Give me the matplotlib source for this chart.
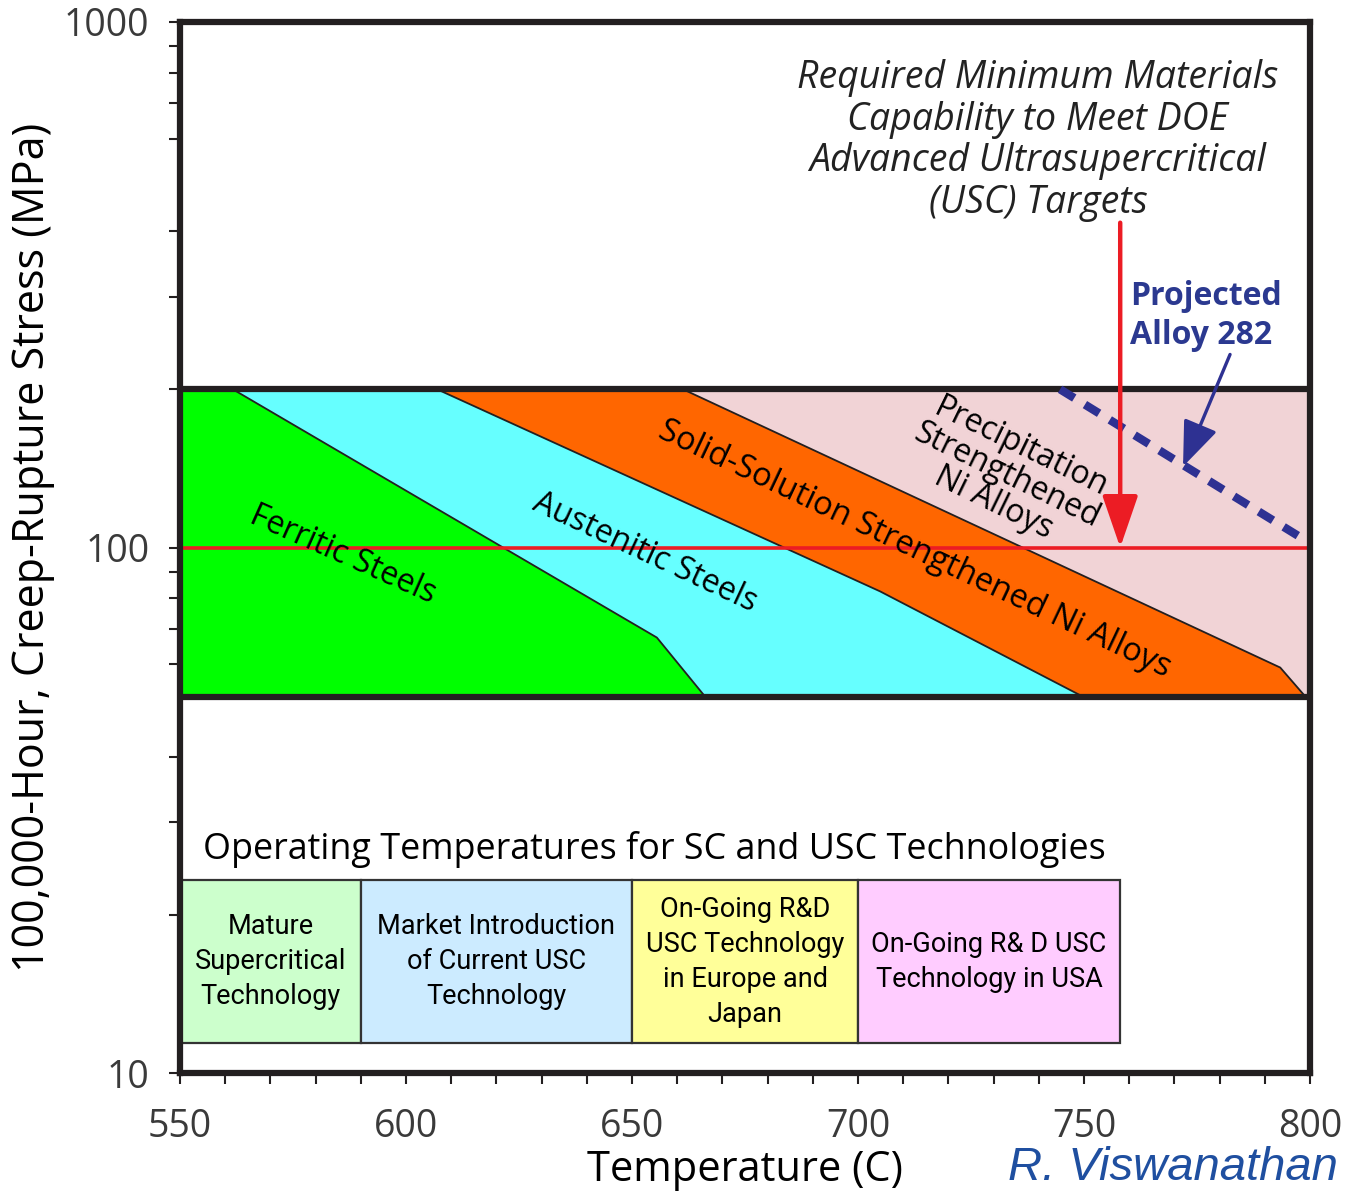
import matplotlib.pyplot as plt
import numpy as np
from matplotlib.patches import Polygon, Rectangle

# creep band boundaries (temperature C, stress MPa)
band_top = 200
band_bottom = 52
ferritic_edge_t = [561.7, 655.5, 666.2]
ferritic_edge_s = [200, 67.4, 52]
austenitic_edge_t = [606.9, 704.9, 749.8]
austenitic_edge_s = [200, 82.5, 52]
solid_edge_t = [661.3, 793.4, 799.0]
solid_edge_s = [200, 59.1, 52]

alloy282_t = [744.7, 799.3]
alloy282_s = [200, 102.8]

target_stress = 100
target_temp = 758

# operating temperature boxes
op_edges = [550, 590, 650, 700, 758]
op_labels = ['Mature\nSupercritical\nTechnology',
             'Market Introduction\nof Current USC\nTechnology',
             'On-Going R&D\nUSC Technology\nin Europe and\nJapan',
             'On-Going R& D USC\nTechnology in USA']
op_colors = ['#CCFFCC', '#CCEBFF', '#FFFF99', '#FFCCFF']
op_low, op_high = 11.4, 23.3

band_colors = ['#00FF00', '#66FFFF', '#FF6600', '#F1D3D6']

DARK = '#231F20'
FONT = 'Open Sans'

fig = plt.figure(figsize=(13.46, 11.94), dpi=100)
ax = fig.add_axes([0.1337, 0.1013, 0.9733 - 0.1337, 0.9816 - 0.1013])
ax.set_yscale('log')
ax.set_xlim(550, 800)
ax.set_ylim(10, 1000)

# filled bands
e1 = list(zip(ferritic_edge_t, ferritic_edge_s))
e2 = list(zip(austenitic_edge_t, austenitic_edge_s))
e3 = list(zip(solid_edge_t, solid_edge_s))
polys = [
    [(550, band_top)] + e1 + [(550, band_bottom)],
    e1 + e2[::-1],
    e2 + e3[::-1],
    e3 + [(800, band_bottom), (800, band_top)],
]
for pts, c in zip(polys, band_colors):
    ax.add_patch(Polygon(pts, closed=True, facecolor=c, edgecolor='none', zorder=1))
for t, s in [(ferritic_edge_t, ferritic_edge_s), (austenitic_edge_t, austenitic_edge_s),
             (solid_edge_t, solid_edge_s)]:
    ax.plot(t, s, color=DARK, lw=1.3, zorder=2)
ax.hlines([band_top, band_bottom], 550, 800, color=DARK, lw=4.5, zorder=3)

# 100 MPa target line and arrow
ax.hlines(target_stress, 550, 800, color='#EC1C24', lw=2.6, zorder=4)
ax.annotate('', xy=(target_temp, target_stress), xytext=(target_temp, 415),
            arrowprops=dict(arrowstyle='-|>,head_length=1.6,head_width=0.55',
                            mutation_scale=20, color='#EC1C24', lw=3.2,
                            shrinkA=0, shrinkB=0), zorder=5)

# projected alloy 282
ax.plot(alloy282_t, alloy282_s, color='#2E3192', lw=6, dashes=(2.0, 1.5), zorder=4)
ax.annotate('', xy=(771.9, 142.6), xytext=(782.3, 233),
            arrowprops=dict(arrowstyle='-|>,head_length=1.4,head_width=0.55',
                            mutation_scale=20, color='#2E3192', lw=2.4,
                            shrinkA=0, shrinkB=0), zorder=5)
ax.text(760.2, 276, 'Projected\nAlloy 282', color='#2B3990', fontsize=23,
        fontweight='bold', family=FONT, ha='left', va='center', linespacing=1.25, zorder=6)

ax.text(739.8, 595, 'Required Minimum Materials\nCapability to Meet DOE\n'
        'Advanced Ultrasupercritical\n(USC) Targets', fontsize=27, style='italic',
        family=FONT, color='#222222', ha='center', va='center', linespacing=1.12, zorder=6)

# band labels
ax.text(586.1, 96.6, 'Ferritic Steels', rotation=-24, fontsize=23, family=FONT,
        ha='center', va='center', rotation_mode='anchor', zorder=6)
ax.text(652.9, 97.8, 'Austenitic Steels', rotation=-25, fontsize=23, family=FONT,
        ha='center', va='center', rotation_mode='anchor', zorder=6)
ax.text(712.6, 99, 'Solid-Solution Strengthened Ni Alloys', rotation=-25.3, fontsize=23.5,
        family=FONT, ha='center', va='center', rotation_mode='anchor', zorder=6)
ax.text(733.0, 137, 'Precipitation\nStrengthened\nNi Alloys', rotation=-26, fontsize=23,
        family=FONT, ha='center', va='center', rotation_mode='anchor',
        multialignment='center', linespacing=0.92, zorder=6)

# operating temperature boxes
ax.text(555.1, 26.6, 'Operating Temperatures for SC and USC Technologies', fontsize=25.8,
        family=FONT, ha='left', va='center', zorder=6)
for i, (lab, c) in enumerate(zip(op_labels, op_colors)):
    x0, x1 = op_edges[i], op_edges[i + 1]
    ax.add_patch(Rectangle((x0, op_low), x1 - x0, op_high - op_low, facecolor=c,
                           edgecolor='#333333', lw=1.6, zorder=2))
    ax.text((x0 + x1) / 2, 16.3, lab, fontsize=19.5, family='Roboto', ha='center',
            va='center', linespacing=1.38, zorder=6)

# axes styling
for sp in ax.spines.values():
    sp.set_linewidth(4.5)
    sp.set_color(DARK)
    sp.set_zorder(7)
ax.set_xticks(np.arange(550, 801, 50))
ax.set_xticks(np.arange(560, 800, 10), minor=True)
ax.set_yticks([10, 100, 1000])
ax.set_yticklabels(['10', '100', '1000'])
ax.set_yticks([20, 30, 40, 60, 70, 80, 90, 200, 300, 400, 600, 700, 800, 900], minor=True)
ax.yaxis.set_minor_formatter(plt.NullFormatter())
ax.tick_params(which='both', direction='out', length=8, width=1.5, color=DARK,
               labelsize=27, labelcolor='#3a3a3a')
ax.tick_params(axis='x', which='both', pad=17)
ax.tick_params(axis='y', which='both', pad=14)
for lab in ax.get_xticklabels() + ax.get_yticklabels():
    lab.set_family(FONT)

ax.set_xlabel('Temperature (C)', fontsize=30, family=FONT, fontweight='medium')
ax.set_ylabel('100,000-Hour, Creep-Rupture Stress (MPa)', fontsize=31, family=FONT,
              fontweight='medium', va='center')
ax.xaxis.set_label_coords(0.5, -0.072)
ax.yaxis.set_label_coords(-0.130, 0.5)

fig.text(0.994, 0.003, 'R. Viswanathan', fontsize=34, style='italic',
         family='Liberation Sans', color='#1F4FA0', ha='right', va='bottom')

fig.savefig('out.png', dpi=100)
